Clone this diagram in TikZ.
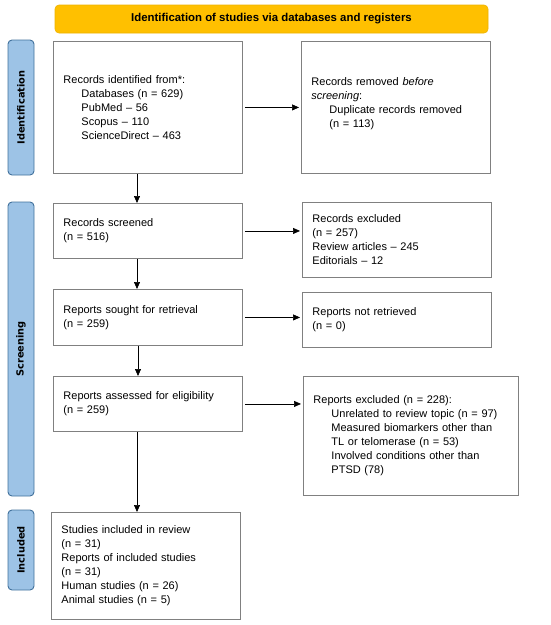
\documentclass[tikz,border=0pt]{standalone}
\usepackage{fontspec}
\setmainfont{Liberation Sans}
\newfontfamily\sidefont{DejaVu Sans}
\usetikzlibrary{arrows.meta}
\definecolor{hdrfill}{HTML}{FFC000}
\definecolor{hdrdraw}{HTML}{EDB200}
\definecolor{sidefill}{HTML}{9DC3E6}
\definecolor{sidedraw}{HTML}{41719C}
\definecolor{boxdraw}{HTML}{808080}
\tikzset{
  flowbox/.style={draw=boxdraw, line width=0.9pt, fill=white, anchor=north west, align=left,
    inner xsep=10pt, inner ysep=0pt, font=\fontsize{11}{14}\selectfont},
  sidebar/.style={draw=sidedraw, line width=0.9pt, fill=sidefill, rounded corners=4pt, rotate=90,
    minimum height=26pt, inner sep=0pt, font=\sidefont\bfseries\fontsize{9.8}{11}\selectfont},
  header/.style={draw=hdrdraw, line width=0.6pt, fill=hdrfill, rounded corners=4pt,
    minimum width=433pt, minimum height=28pt, inner sep=0pt, font=\bfseries\fontsize{11.4}{13}\selectfont},
  arr/.style={-{Triangle[length=7pt,width=6pt]}, line width=0.7pt, black},
}
\newcommand{\ind}{\hspace*{18pt}}
\begin{document}
\begin{tikzpicture}[x=1pt,y=-1pt]
\useasboundingbox (0,0) rectangle (550,625);
\node[header] (hdr) at (271.5,19) {Identification of studies via databases and registers};
\node[sidebar, minimum width=135pt] (sid1) at (21,107.5) {Identification};
\node[sidebar, minimum width=294pt] (sid2) at (21,349) {Screening};
\node[sidebar, minimum width=80pt] (sid3) at (21,550) {Included};

\node[flowbox, text width=169pt, minimum height=132pt] (b1) at (53,41)
  {Records identified from*:\\\ind Databases (n = 629)\\\ind PubMed -- 56\\\ind Scopus -- 110\\\ind ScienceDirect -- 463};
\node[flowbox, text width=169pt, minimum height=132pt] (b2) at (301,41)
  {Records removed \textit{before}\\\textit{screening}:\\\ind Duplicate records removed\\\ind (n = 113)\\[-4pt]\mbox{}};
\node[flowbox, text width=169pt, minimum height=55pt] (b3) at (53,203)
  {Records screened\\(n = 516)};
\node[flowbox, text width=169pt, minimum height=75pt] (b4) at (302,202)
  {Records excluded\\(n = 257)\\Review articles -- 245\\Editorials -- 12};
\node[flowbox, text width=169pt, minimum height=56pt] (b5) at (53,289)
  {Reports sought for retrieval\\(n = 259)};
\node[flowbox, text width=169pt, minimum height=55pt] (b6) at (302,292)
  {Reports not retrieved\\(n = 0)};
\node[flowbox, text width=169pt, minimum height=55pt] (b7) at (53,376)
  {Reports assessed for eligibility\\(n = 259)};
\node[flowbox, text width=195pt, minimum height=119pt] (b8) at (303,376)
  {Reports excluded (n = 228):\\\ind Unrelated to review topic (n = 97)\\\ind Measured biomarkers other than\\\ind TL or telomerase (n = 53)\\\ind Involved conditions other than\\\ind PTSD (78)};
\node[flowbox, text width=169pt, minimum height=107pt] (b9) at (51,512)
  {Studies included in review\\(n = 31)\\Reports of included studies\\(n = 31)\\Human studies (n = 26)\\Animal studies (n = 5)};

\draw[arr, shorten <=2pt, shorten >=2pt] (b1.east) -- (b2.west);
\draw[arr, shorten <=2pt, shorten >=2pt] (b3.east) -- (b3.east -| b4.west);
\draw[arr, shorten <=2pt, shorten >=2pt] (b5.east) -- (b5.east -| b6.west);
\draw[arr, shorten <=2pt, shorten >=2pt] (b7.east) -- (b7.east -| b8.west);
\draw[arr] ([xshift=84pt]b1.south west) -- ([xshift=84pt]b3.north west);
\draw[arr] ([xshift=84pt]b3.south west) -- ([xshift=84pt]b5.north west);
\draw[arr] ([xshift=85pt]b5.south west) -- ([xshift=85pt]b7.north west);
\draw[arr] ([xshift=84pt]b7.south west) -- ([xshift=86pt]b9.north west);
\end{tikzpicture}
\end{document}
